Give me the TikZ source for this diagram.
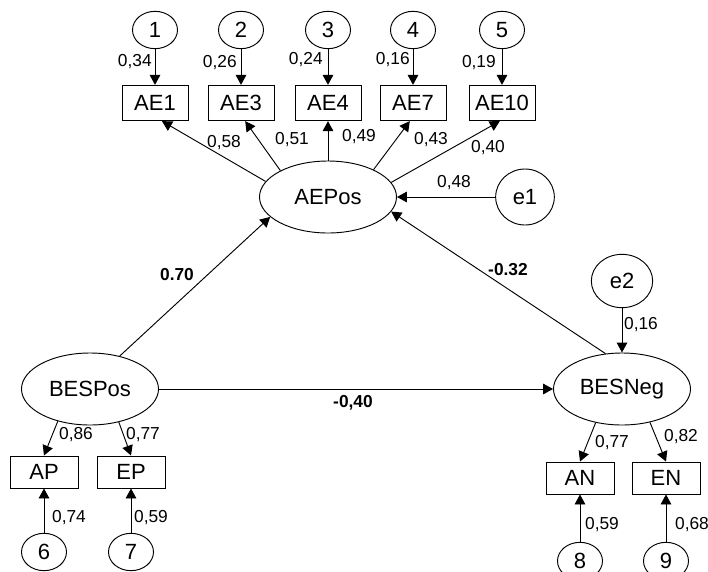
\documentclass[tikz,border=0pt]{standalone}
\usepackage{fontspec}
\setmainfont{Liberation Sans}
\usetikzlibrary{shapes.geometric,arrows.meta}
\begin{document}
\begin{tikzpicture}[x=0.75pt,y=-0.75pt,
  lat/.style={ellipse,draw,line width=0.7pt,minimum width=102.75pt,minimum height=54pt,inner sep=0pt,font=\fontsize{16.5}{19}\selectfont},
  err/.style={ellipse,draw,line width=0.7pt,inner sep=0pt,font=\fontsize{16.5}{19}\selectfont},
  obs/.style={rectangle,draw,line width=0.7pt,inner sep=0pt,font=\fontsize{16.5}{19}\selectfont},
  topobs/.style={obs,minimum width=49.5pt,minimum height=26.5pt},
  botobs/.style={obs,minimum width=51pt,minimum height=24pt},
  smallerr/.style={err,minimum width=33.75pt,minimum height=28pt},
  lbl/.style={inner sep=0pt,font=\fontsize{13}{15}\selectfont},
  blbl/.style={inner sep=0pt,font=\fontsize{13}{15}\selectfont\bfseries},
  arr/.style={line width=0.7pt,-{Triangle[length=7.5pt,width=8pt]}}
]
\useasboundingbox (0,0) rectangle (708,572);
\clip (0,0) rectangle (708,572);

% top error circles
\node[smallerr] (c1) at (155,30) {1};
\node[smallerr] (c2) at (241,30) {2};
\node[smallerr] (c3) at (328,30) {3};
\node[smallerr] (c4) at (413,30) {4};
\node[smallerr] (c5) at (502,30) {5};

% top indicators
\node[topobs] (AE1) at (155,103) {AE1};
\node[topobs] (AE3) at (241,103) {AE3};
\node[topobs] (AE4) at (328,103) {AE4};
\node[topobs] (AE7) at (413,103) {AE7};
\node[topobs] (AE10) at (502,103) {AE10};

% latents
\node[lat] (AEPos) at (328,197) {AEPos};
\node[lat] (BESPos) at (90,389) {BESPos};
\node[lat] (BESNeg) at (622,389) {BESNeg};

% disturbances
\node[err,minimum width=44pt,minimum height=42pt] (e1) at (525,197) {e1};
\node[err,minimum width=46pt,minimum height=40pt] (e2) at (622,281) {e2};

% bottom indicators
\node[botobs] (AP) at (44,472) {AP};
\node[botobs] (EP) at (131,472) {EP};
\node[botobs] (AN) at (580,478) {AN};
\node[botobs] (EN) at (666,478) {EN};

% bottom error circles
\node[smallerr] (c6) at (44,552) {6};
\node[smallerr] (c7) at (131,552) {7};
\node[smallerr] (c8) at (580,561) {8};
\node[smallerr] (c9) at (666,561) {9};

% arrows error -> top indicators
\draw[arr] (c1) -- (AE1);
\draw[arr] (c2) -- (AE3);
\draw[arr] (c3) -- (AE4);
\draw[arr] (c4) -- (AE7);
\draw[arr] (c5) -- (AE10);

% AEPos -> indicators
\draw[arr] (AEPos.166) -- (AE1.291);
\draw[arr] (AEPos.151) -- (AE3.283);
\draw[arr] (AEPos.north) -- (AE4.south);
\draw[arr] (AEPos.31) -- (AE7.260);
\draw[arr] (AEPos.13) -- (AE10.263);

% structural
\draw[arr] (e1) -- (AEPos);
\draw[arr] (BESPos.48) -- (AEPos.199);
\draw[arr] (BESNeg.115) -- (AEPos.347);
\draw[arr] (e2) -- (BESNeg);
\draw[arr] (BESPos.east) -- (BESNeg.west);

% bottom measurement
\draw[arr] (BESPos.225) -- (AP.north);
\draw[arr] (BESPos.311) -- (EP.north);
\draw[arr] (BESNeg.232) -- (AN.north);
\draw[arr] (BESNeg.310) -- (EN.north);
\draw[arr] (c6) -- (AP);
\draw[arr] (c7) -- (EP);
\draw[arr] (c8) -- (AN);
\draw[arr] (c9) -- (EN);

% labels
\node[lbl,anchor=east] (l1) at (152,62) {0,34};
\node[lbl,anchor=east] (l2) at (237,63) {0,26};
\node[lbl,anchor=east] (l3) at (323,60) {0,24};
\node[lbl,anchor=east] (l4) at (410,60) {0,16};
\node[lbl,anchor=east] (l5) at (496,63) {0,19};
\node[lbl] (l58) at (224,143) {0,58};
\node[lbl] (l51) at (292,140) {0,51};
\node[lbl] (l49) at (359,137) {0,49};
\node[lbl] (l43) at (431,140) {0,43};
\node[lbl] (l40) at (488,148) {0,40};
\node[lbl] (l48) at (454,183) {0,48};
\node[blbl] (l70) at (177,275) {0.70};
\node[blbl] (l32) at (508,270) {-0.32};
\node[blbl] (l040) at (353,403) {-0,40};
\node[lbl] (l16) at (641,325) {0,16};
\node[lbl] (l86) at (76,435) {0,86};
\node[lbl] (l77a) at (143,435) {0,77};
\node[lbl] (l74) at (69,518) {0,74};
\node[lbl] (l59a) at (151,518) {0,59};
\node[lbl] (l77b) at (612,443) {0,77};
\node[lbl] (l82) at (681,437) {0,82};
\node[lbl] (l59b) at (602,525) {0,59};
\node[lbl] (l68) at (692,525) {0,68};
\end{tikzpicture}
\end{document}
